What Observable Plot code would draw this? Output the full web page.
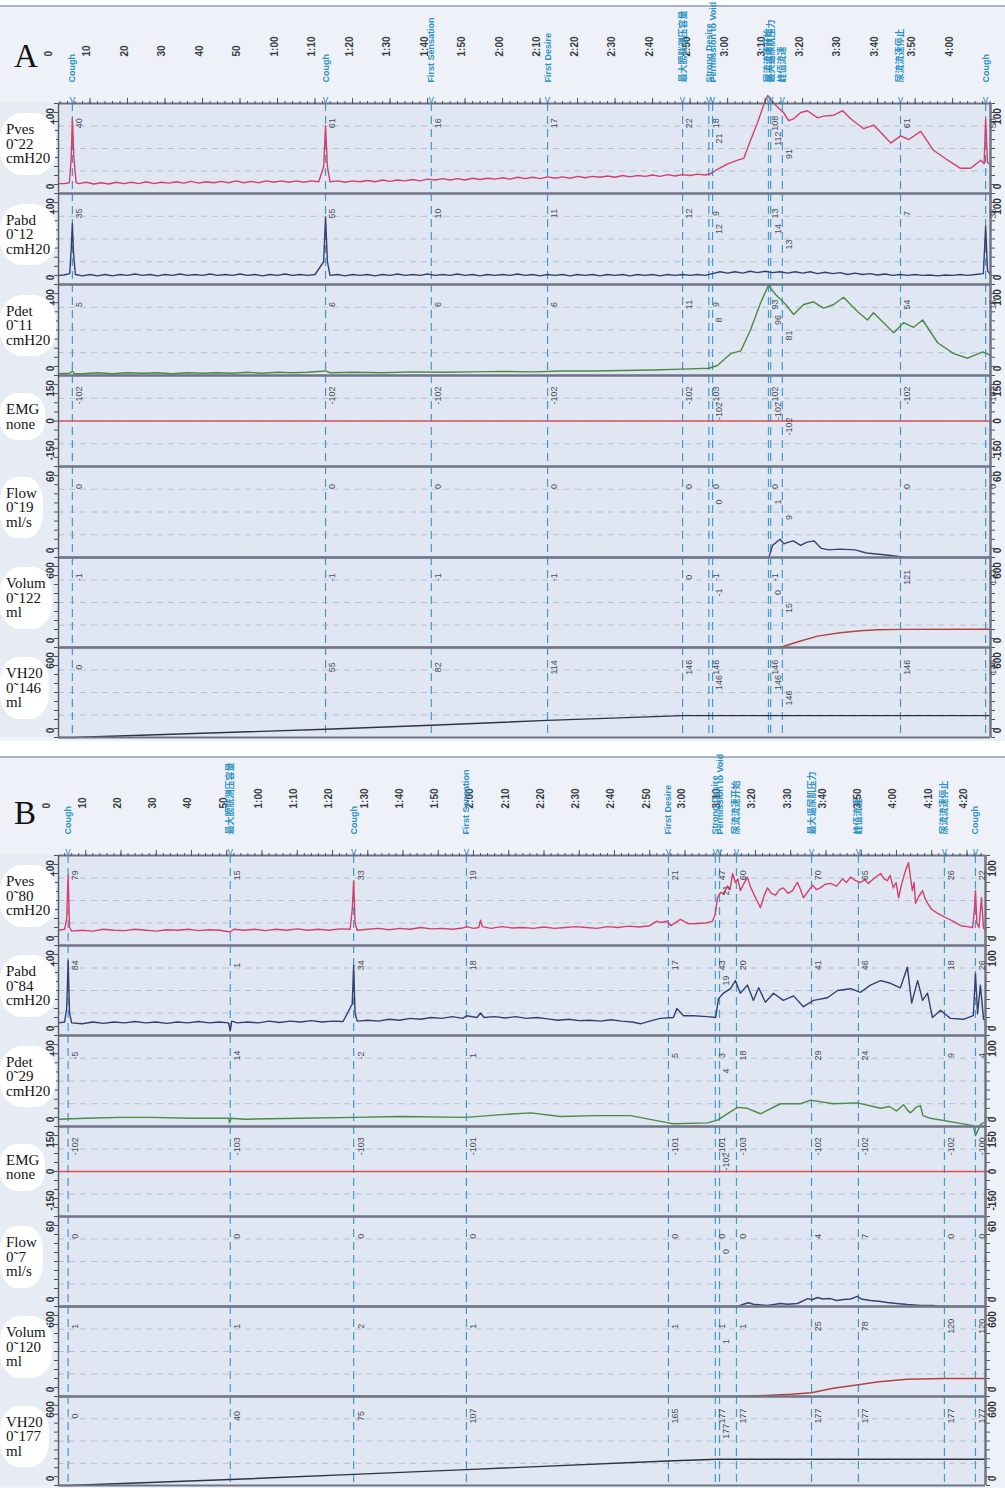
<!DOCTYPE html>
<html><head><meta charset="utf-8">
<script src="https://cdn.jsdelivr.net/npm/d3@7"></script>
<script src="https://cdn.jsdelivr.net/npm/@observablehq/plot@0.6"></script>
<style>
html,body{margin:0;padding:0;background:#fff}
#root{position:relative;width:1005px;height:1488px;overflow:hidden;font-family:"Liberation Sans",Arial,sans-serif}
.abs{position:absolute}
.chlabel{position:absolute;font-family:"Liberation Serif","DejaVu Serif",serif;font-size:15px;line-height:14.5px;color:#151515;background:#fff;border-radius:40%;padding:9px 6px 9px 6px;white-space:pre}
.letter{position:absolute;font-family:"Liberation Serif",serif;font-size:33px;color:#111;line-height:1}
svg{overflow:visible}
</style></head><body><div id="root"></div>
<script>
// ================= PANEL A DATA =================
const tickTimesA = [0,10,20,30,40,50,60,70,80,90,100,110,120,130,140,150,160,170,180,190,200,210,220,230,240];
const tickLabelsA = ["0","10","20","30","40","50","1:00","1:10","1:20","1:30","1:40","1:50","2:00","2:10","2:20","2:30","2:40","2:50","3:00","3:10","3:20","3:30","3:40","3:50","4:00"];
const eventTimesA = [5.3,72.8,101,132,168,175,176,190.9,191.5,194.6,226.1,248.8];
const eventNamesA = ["Cough","Cough","First Sensation","First Desire","最大膀胱测压容量","Strong Desire","Permission to Void","尿流流速开始","最大逼尿肌压力","峰值流速","尿流流速停止","Cough"];
const channelLabelsA = [["Pves","0˜22","cmH20"],["Pabd","0˜12","cmH20"],["Pdet","0˜11","cmH20"],["EMG","none"],["Flow","0˜19","ml/s"],["Volum","0˜122","ml"],["VH20","0˜146","ml"]];
const valPvesA  = [40,61,16,17,22,18,21,108,112,91,61,50];
const valPabdA  = [35,55,10,11,12,9,12,13,14,13,7,35];
const valPdetA  = [5,6,6,6,11,9,8,93,96,81,54,15];
const valEmgA   = [-102,-102,-102,-102,-102,-103,-102,-102,-102,-102,-102,-102];
const valFlowA  = [0,0,0,0,0,0,0,0,1,9,0,0];
const valVolumA = [-1,-1,-1,-1,0,-1,-1,-1,0,15,121,122];
const valVh20A  = [0,55,82,114,146,146,146,146,146,146,146,146];

const pvesA = [[1.6,11],[3,11],[4.5,12],[5.0,40],[5.3,83],[5.7,40],[6.3,12],[7,11],[9,12.5],[11,10.5],[13,12],[15,10.5],[17,12.5],[19,11],[21,12.5],[23,11],[25,13],[27,11],[29,12.5],[31,11.5],[33,13],[35,11.5],[37,13.5],[39,11.5],[41,13],[43,12],[45,13.5],[47,12],[49,14],[51,12],[53,13.5],[55,12],[57,14],[59,12.5],[61,14],[63,12.5],[65,14],[67,12.5],[69,14],[71,13],[72.3,30],[72.8,75],[73.3,30],[74,13],[76,14],[78,12.5],[80,14],[82,13],[84,14.5],[86,13],[88,15],[90,13.5],[92,15],[94,14],[96,15.5],[98,14],[100,16],[102,15],[104,16.5],[106,15],[108,16.5],[110,15],[112,17],[114,15.5],[116,17],[118,16],[120,17.5],[122,16],[124,18],[126,16.5],[128,18],[130,16.5],[132,18.5],[134,17],[136,18.5],[138,17],[140,19],[142,17.5],[144,19],[146,18],[148,19.5],[150,18],[152,20],[154,18.5],[156,20],[158,19],[160,20.5],[162,19],[164,21],[166,19.5],[168,21],[170,20],[172,21.5],[174,20.5],[175.5,22],[176.8,25.6],[180,33],[182.7,37],[184.3,39],[186.1,59],[188,79],[189.6,98],[190.7,109],[192.8,98],[194.9,90],[196.3,81],[197.6,83],[199.5,90],[201.3,92],[204,84],[205.6,86],[208.3,87],[210.7,92],[212.8,83],[216.3,72],[218.9,76],[220.8,68],[223.5,56],[226.1,64],[228.3,60],[231.5,69],[234.9,48],[238.7,37],[242.1,28],[244.8,28],[247.5,37],[248.4,33],[248.8,83],[249.3,35],[250.1,31]];
const pabdA = [[1.6,10],[3,10.5],[4.6,12],[5.0,40],[5.3,67],[5.6,35],[6.1,11],[8,9.5],[10,11],[12,9.5],[14,11],[16,9.5],[18,11],[20,10],[22,11.5],[24,10],[26,11],[28,9.5],[30,11],[32,10],[34,11.5],[36,10],[38,11],[40,10],[42,11.5],[44,10],[46,11],[48,10],[50,11.5],[52,10],[54,11],[56,9.5],[58,11],[60,10],[62,11.5],[64,10],[66,11],[68,10],[70,11],[72.3,25],[72.8,74],[73.3,25],[74,10],[76,11],[78,9.5],[80,11],[82,10],[84,11],[86,9.5],[88,11],[90,10],[92,11.5],[94,10],[96,11],[98,10],[100,11.5],[102,10],[104,11],[106,10],[108,11.5],[110,10],[112,11],[114,9.5],[116,11],[118,10],[120,11],[122,10],[124,11.5],[126,10],[128,11],[130,9.5],[132,11],[134,10],[136,11],[138,9.5],[140,11],[142,10],[144,11],[146,9.5],[148,11],[150,10],[152,11],[154,9.5],[156,11],[158,10],[160,11],[162,9.5],[164,11],[166,10],[168,11],[170,10],[172,11],[174,10],[176,12],[178,14],[180,12.5],[182,14],[184,12.5],[186,14.5],[188,13],[190,14.5],[192,13],[194,14],[196,12.5],[198,14],[200,12.5],[202,14],[204,12],[206,13.5],[208,12],[210,13],[212,11],[214,12.5],[216,11],[218,12],[220,10.5],[222,11.5],[224,10],[226,11],[228,10],[230,11],[232,10],[234,10.5],[236,9.5],[238,10.5],[240,10],[242,11],[244,10],[246,11],[248.2,12],[248.8,64],[249.3,15],[250.1,11]];
const pdetA = [[1.6,2],[4.6,2.5],[5.3,5],[5.8,2],[8,2],[12,3],[16,2],[20,3],[24,2.5],[28,3],[32,2],[36,3],[40,2.5],[44,3],[48,2.5],[52,3.5],[56,2.5],[60,3.5],[64,3],[68,3.5],[72.8,5],[74,3],[80,3.5],[88,3],[96,4],[104,3.5],[112,4],[120,4.5],[128,4],[136,5],[144,5],[152,5.5],[160,6],[168,7],[175,8],[177.3,11],[180.8,24],[183.5,27],[186.1,50],[188.8,80],[190.9,99],[192.8,89],[195.5,78],[197.6,67],[200.3,78],[202.9,81],[205.6,74],[208.3,78],[210.9,86],[214.7,70],[217.3,61],[218.9,69],[221.6,58],[224.3,47],[226.9,58],[229.6,53],[232,61],[236,36],[240.3,24],[244,19],[248,26],[250.1,22]];
const emgA = [[1.6,0],[250.1,0]];
const flowA = [[1.6,0],[191,0],[192,8],[194,12],[195,9],[196,10],[197.5,11],[199.5,8],[201,10],[203,11],[205,6],[207,5],[210,5.5],[214,5],[217,3],[223,1.5],[226,0.5],[228,0],[250.1,0]];
const volumA = [[1.6,0],[194,0],[199,40],[204,76],[210,98],[215.5,112],[220,118],[226,121],[250.1,122]];
const vh20A = [[1.6,0],[5.3,0],[72.8,55],[101,82],[132,114],[168,146],[250.1,146]];

// ================= PANEL B DATA =================
const tickTimesB = [0,10,20,30,40,50,60,70,80,90,100,110,120,130,140,150,160,170,180,190,200,210,220,230,240,250,260];
const tickLabelsB = ["0","10","20","30","40","50","1:00","1:10","1:20","1:30","1:40","1:50","2:00","2:10","2:20","2:30","2:40","2:50","3:00","3:10","3:20","3:30","3:40","3:50","4:00","4:10","4:20"];
const eventTimesB = [5,51,86,118,175.3,188.6,189.8,194.6,215.9,229.2,253.6,262.4];
const eventNamesB = ["Cough","最大膀胱测压容量","Cough","First Sensation","First Desire","Strong Desire","Permission to Void","尿流流速开始","最大逼尿肌压力","峰值流速","尿流流速停止","Cough"];
const channelLabelsB = [["Pves","0˜80","cmH20"],["Pabd","0˜84","cmH20"],["Pdet","0˜29","cmH20"],["EMG","none"],["Flow","0˜7","ml/s"],["Volum","0˜120","ml"],["VH20","0˜177","ml"]];
const valPvesB  = [79,15,33,19,21,47,21,60,70,65,26,22];
const valPabdB  = [84,1,34,18,17,43,19,20,41,46,18,26];
const valPdetB  = [-5,14,-2,1,5,3,4,18,29,24,9,4];
const valEmgB   = [-102,-103,-103,-101,-101,-101,-102,-103,-102,-102,-102,-100];
const valFlowB  = [0,0,0,0,0,0,0,0,4,7,0,0];
const valVolumB = [1,1,2,1,1,1,1,1,25,78,120,120];
const valVh20B  = [0,40,75,107,165,177,177,177,177,177,177,177];

const pvesB = [[2.3,17],[4,18],[4.6,30],[5,78],[5.4,20],[6,16],[9,17],[12,16],[15,18],[18,17],[21,16.5],[24,18],[27,17],[30,16],[33,17.5],[36,17],[39,18],[42,16.5],[45,17.5],[48,17],[51,15],[52,18],[55,17],[58,18],[61,16.5],[64,18],[67,17],[70,18.5],[73,17],[76,18],[79,17],[82,18.5],[85,18],[85.6,40],[86,72],[86.4,25],[87,17],[90,18],[93,19],[96,17.5],[99,19],[102,18],[105,20],[108,18.5],[111,19],[114,18],[117,19.5],[118,21],[120,19],[121.5,20],[122,28],[122.5,21],[125,19],[128,21],[131,19.5],[134,20],[137,19],[140,20.5],[143,19],[146,20],[149,21],[152,20],[155,19],[158,21],[161,20],[164,21.5],[167,20.5],[170,22],[172,27],[173,25.6],[175,27],[176,22],[178.7,29],[181,24],[183.5,24.4],[186,25],[187.8,27],[188.6,35],[189.2,53],[190.1,59],[191,57],[192,66],[192.8,62],[193.5,80],[194.3,70],[195,74],[195.7,61],[196.6,68],[197.7,76],[198.5,66],[199.4,58],[200.4,50],[201.4,42],[202.4,55],[203.4,64],[204.5,58],[205.7,56],[206.8,62],[207.9,64],[209.2,58],[210.5,61],[211.2,66],[211.9,70],[212.8,62],[213.6,53],[214.9,60],[216.2,67],[217.3,62],[218.4,64],[219.8,68],[221.3,69],[223,66],[224.7,74],[225.8,70],[226.95,76],[228.4,72],[229.8,70],[231,73],[232,69],[233.8,75],[235.5,80],[236.5,74],[237.4,72],[238.2,78],[239.1,64],[239.9,70],[240.6,53],[241.3,66],[242,76],[242.7,85],[243.4,92],[244,75],[244.5,61],[245,70],[245.4,47],[246.4,55],[247.4,61],[248.1,52],[248.8,47],[250,40],[251.6,36],[253,33],[254.5,30],[256,27],[258.2,22],[260,21],[261.6,20],[262.1,40],[262.4,61],[262.8,25],[263.4,20],[264.1,53],[264.7,19],[265.25,18]];
const pabdB = [[2.3,14],[4,15],[4.6,30],[5,83],[5.4,25],[6,14],[9,13],[12,15],[15,13.5],[18,15],[21,14],[24,15.5],[27,14],[30,15],[33,13.5],[36,15],[39,14],[42,15.5],[45,14],[48,15],[50.5,14],[51,5],[51.4,16],[53,14],[56,15],[59,14],[62,16],[65,14.5],[68,16],[71,15],[74,16.5],[77,15],[80,16],[83,15.5],[85.6,35],[86,78],[86.4,25],[87,16],[90,17],[93,16],[96,18],[99,17],[102,19],[105,18],[108,20],[111,19],[114,21],[117,19],[118,22],[121,20],[122,25],[123,20],[126,21],[129,19.5],[132,21],[135,19],[138,20],[141,18.5],[144,17],[147,18],[150,16.5],[153,17],[156,16],[159,17.5],[162,16],[165,15],[167.4,13],[170,16],[173,19],[176.7,20],[177.7,30],[179.6,22],[182.4,22],[186.4,21],[188.7,20],[189.5,41],[190.9,47],[192.9,52],[194.3,61],[195.7,47],[197.7,56],[199.4,39],[200.9,53],[202.8,37],[205.1,47],[207.9,39],[210.8,44],[213.6,32],[216.5,39],[220.4,42],[223.3,50],[227,52],[229.8,48],[232.6,56],[235.5,61],[238.3,58],[241.1,53],[243.1,76],[244.3,36],[246,61],[247.4,39],[248.8,47],[250.2,20],[252.5,28],[255.3,19],[259,18],[261.8,22],[262.4,69],[263,24],[263.8,56],[264.7,18],[265.25,17]];
const pdetB = [[2.3,8],[10,9],[20,10],[28.4,10],[40,9],[50.6,9],[50.8,4],[51.2,9],[55,8],[70.9,9],[86.2,10],[99.3,11],[117.7,10],[128,13],[136.2,15],[144.7,11],[155,12],[164.5,12],[175.3,4],[176.7,3],[186.4,4],[189.2,7],[194.9,21],[197.7,20],[201.4,14],[207.1,25],[212.8,25],[215.6,29],[222.1,25],[228.9,26],[235.5,20],[238,22],[240,17],[242,24],[243.1,18],[244,15],[245.5,21],[246.8,23],[247.5,12],[249.6,9],[257.3,4],[261.8,1],[262.4,-10],[263.8,2],[265.25,5]];
const emgB = [[2.27,0],[265.25,0]];
const flowB = [[2.27,0],[194.9,0],[196.6,1.5],[198,2.5],[199.4,1.5],[203.4,0.7],[207.1,2],[209,1.5],[211.9,2],[214.8,5.3],[216,4.5],[217.6,6],[219,5],[221.3,5.3],[223,4],[225,4.7],[227,5],[228.9,6.7],[230,5],[232.6,4],[235,3.5],[237.4,2.7],[240,2],[243.1,1.3],[247,0.7],[250.5,0.7],[252,0],[265.25,0]];
const volumB = [[2.27,0],[5,1],[51,1],[86,2],[118,1],[175,1],[194.6,1],[203,7],[210,15],[215.9,25],[222,55],[229.2,78],[235,98],[243,115],[253.6,120],[265.25,120]];
const vh20B = [[2.27,0],[5,0],[51,40],[86,75],[118,107],[175,165],[189,177],[265.25,177]];

// ================= CHANNEL SETTINGS =================
const chDomains = [[0,100],[0,100],[0,100],[-150,150],[0,60],[0,600],[0,600]];
const chColors = ["#d63f6c","#33406f","#4a8a45","#e0505a","#36426f","#b2423f","#30333f"];

const panels = [
  {letter:"A", top:5, bottom:741, letterTop:40, bounds:[103,193,284,375,466,557,647,737], domain:[1.6,250.1], mR:15,
   ticks:tickTimesA, tickLabels:tickLabelsA, events:eventTimesA, names:eventNamesA, labels:channelLabelsA,
   vals:[valPvesA,valPabdA,valPdetA,valEmgA,valFlowA,valVolumA,valVh20A],
   series:[pvesA,pabdA,pdetA,emgA,flowA,volumA,vh20A]},
  {letter:"B", top:756, bottom:1488, letterTop:797, bounds:[855,945,1035,1126,1216,1306,1396,1485], domain:[2.27,265.25], mR:20,
   ticks:tickTimesB, tickLabels:tickLabelsB, events:eventTimesB, names:eventNamesB, labels:channelLabelsB,
   vals:[valPvesB,valPabdB,valPdetB,valEmgB,valFlowB,valVolumB,valVh20B],
   series:[pvesB,pabdB,pdetB,emgB,flowB,volumB,vh20B]}
];

const root = document.getElementById("root");
function box(style, cls, text) {
  const d = document.createElement("div");
  d.className = cls || "abs";
  Object.assign(d.style, style);
  if (text != null) d.textContent = text;
  root.appendChild(d);
  return d;
}
function put(el, left, top) {
  const w = document.createElement("div");
  w.className = "abs"; w.style.left = left + "px"; w.style.top = top + "px";
  w.appendChild(el); root.appendChild(w);
}
const FONT = "Liberation Sans, Arial, sans-serif";

function staggerLevels(ts) {
  const L = [];
  ts.forEach((t, i) => L.push(i > 0 && t - ts[i-1] < 4 ? (L[i-1] + 1) % 3 : 0));
  return L;
}

panels.forEach(p => {
  const xR = 1005 - p.mR;
  const b = p.bounds;
  box({left:"0px", top:p.top+"px", width:"1005px", height:(p.bottom-p.top)+"px", background:"#eef2f8", borderTop:"2px solid #a9b2bf", boxSizing:"border-box"});
  box({left:"58px", top:b[0]+"px", width:(xR-58)+"px", height:(b[7]-b[0])+"px", background:"#e0e7f2"});
  box({left:"0px", top:b[0]+"px", width:"58px", height:(b[7]-b[0])+"px", background:"#e7ecf4"});
  const lvl = staggerLevels(p.events);

  // header: time ticks and event names
  const header = Plot.plot({
    width:1005, height:b[0]-p.top, marginLeft:58, marginRight:p.mR, marginTop:0, marginBottom:0,
    x:{domain:p.domain, axis:null},
    style:{fontFamily:FONT, background:"transparent", overflow:"visible"},
    marks:[
      Plot.text(p.ticks, {x:d=>d, text:(d,i)=>p.tickLabels[i], frameAnchor:"bottom", dy:-47, rotate:-90, textAnchor:"start", fontSize:10, fontWeight:"bold", fill:"#3a3d44"}),
      Plot.text(p.events, {x:d=>d, text:(d,i)=>p.names[i], frameAnchor:"bottom", dy:-21, dx:3, rotate:-90, textAnchor:"start", fontSize:9, fontWeight:"bold", fill:"#2d92c4", fontFamily:"Liberation Sans, Noto Sans CJK SC, sans-serif"})
    ]
  });
  put(header, 0, p.top);

  p.series.forEach((data, i) => {
    const [lo, hi] = chDomains[i];
    const h = b[i+1] - b[i];
    const frac = f => lo + (hi - lo) * f;
    const ruler = d3.range(0, 11).map(k => frac(k / 10));
    const marks = [
      Plot.ruleY([0.25, 0.5, 0.75].map(frac), {stroke:"#b4c0d4", strokeDasharray:"6,5", strokeWidth:1}),
      Plot.ruleX(p.events, {x:d=>d, stroke:"#3d9bd0", strokeWidth:1.2, strokeDasharray:"8,5"}),
      Plot.axisY({anchor:"left", ticks:ruler, tickSize:4, tickFormat:()=>"", stroke:"#4a5160"}),
      Plot.axisY({anchor:"right", ticks:ruler, tickSize:4, tickFormat:()=>"", stroke:"#4a5160"}),
      Plot.line(data, {x:d=>d[0], y:d=>d[1], stroke:chColors[i], strokeWidth:1.4}),
      Plot.ruleY([lo], {stroke:"#6e7583", strokeWidth:2}),
      Plot.ruleY([hi], {stroke:"#6e7583", strokeWidth:2}),
      Plot.ruleX([p.domain[0]], {stroke:"#59606c", strokeWidth:1.5}),
      Plot.ruleX([p.domain[1]], {stroke:"#6e7583", strokeWidth:2.5}),
      Plot.text(p.events, {x:d=>d, y:(d,j)=>frac(0.78 - lvl[j]*0.17), text:(d,j)=>String(p.vals[i][j]), rotate:-90, dx:7, fontSize:9, fill:"#4a4d55"})
    ];
    // range labels on both sides
    const edge = [p.domain[0], p.domain[1]];
    const dxs = [-8, 7];
    edge.forEach((ex, k) => {
      marks.push(Plot.text([hi], {x:()=>ex, y:d=>d, text:d=>String(d), rotate:-90, dx:dxs[k], dy:String(hi).length*3+4, fontSize:10, fontWeight:"bold", fill:"#33363d"}));
      marks.push(Plot.text([lo], {x:()=>ex, y:d=>d, text:d=>String(d), rotate:-90, dx:dxs[k], dy:-(String(lo).length*3+4), fontSize:10, fontWeight:"bold", fill:"#33363d"}));
      if (lo < 0) marks.push(Plot.text([0], {x:()=>ex, y:d=>d, text:d=>String(d), rotate:-90, dx:dxs[k], fontSize:10, fontWeight:"bold", fill:"#33363d"}));
    });
    if (i === 0) {
      marks.push(Plot.axisX({anchor:"top", ticks:d3.range(0, p.domain[1], 2).filter(t => t > p.domain[0]), tickSize:3, tickFormat:()=>"", stroke:"#4a5160"}));
      marks.push(Plot.axisX({anchor:"top", ticks:p.ticks.filter(t => t > p.domain[0]), tickSize:6, tickFormat:()=>"", stroke:"#4a5160"}));
      marks.push(Plot.text(p.events, {x:d=>d, text:()=>"v", frameAnchor:"top", dy:-8, fontSize:11, fill:"#3a95c0"}));
    }
    const chart = Plot.plot({
      width:1005, height:h, marginLeft:58, marginRight:p.mR, marginTop:0, marginBottom:0,
      x:{domain:p.domain, axis:null},
      y:{domain:[lo, hi], axis:null},
      style:{fontFamily:FONT, background:"transparent", overflow:"visible"},
      marks
    });
    put(chart, 0, b[i]);
    // channel name label on white blob
    const lab = p.labels[i];
    const lh = lab.length * 14.5 + 18;
    box({left:"0px", top:(b[i] + h/2 - lh/2 - 4) + "px"}, "chlabel", lab.join("\n"));
  });
  box({left:"14px", top:p.letterTop+"px"}, "letter", p.letter);
});
</script></body></html>
